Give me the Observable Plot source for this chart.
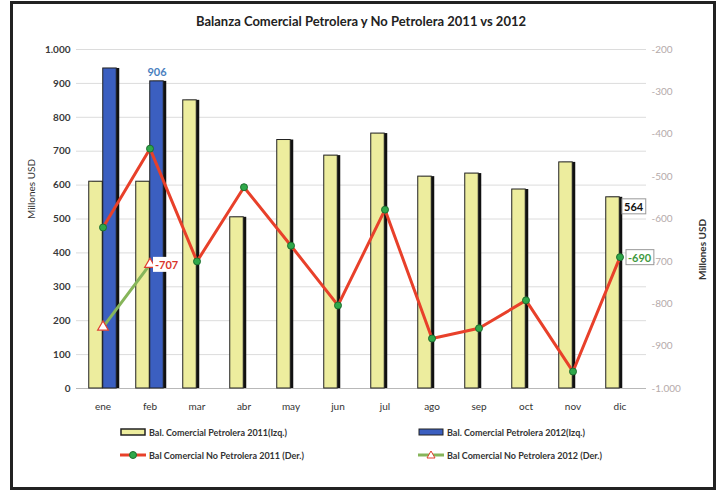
<!DOCTYPE html>
<html><head><meta charset="utf-8">
<script src="https://cdn.jsdelivr.net/npm/d3@7"></script>
<script src="https://cdn.jsdelivr.net/npm/@observablehq/plot@0.6"></script>
<style>
body{margin:0;background:#fff;font-family:Lato, "Open Sans", sans-serif}
#wrap{position:relative;width:722px;height:491px;overflow:hidden;background:#fff}
#frame{position:absolute;left:10px;top:1px;width:706px;height:489px;border:3px solid #222;box-sizing:border-box;pointer-events:none}
#title{position:absolute;left:0;width:722px;top:13px;text-align:center;font-weight:700;font-size:13px;color:#222}
#chart{position:absolute;left:0;top:0}
.leg{position:absolute;font-size:9px;font-weight:700;color:#333;display:flex;align-items:center;white-space:nowrap}
.leg svg{margin-right:2px}
</style></head>
<body>
<div id="wrap">
  <div id="chart"></div>
  <div id="title">Balanza Comercial Petrolera y No Petrolera 2011 vs 2012</div>
  <div id="legend"></div>
  <div id="frame"></div>
</div>
<script>
const months = ["ene","feb","mar","abr","may","jun","jul","ago","sep","oct","nov","dic"];
const petrolera2011 = [610,610,850,505,733,687,752,625,634,587,667,564];
const petrolera2012 = [944,906];
const noPetrolera2011 = [-620,-434,-700,-525,-663,-804,-578,-882,-858,-792,-960,-690];
const noPetrolera2012 = [-855,-707];
const leftTicks = [0,100,200,300,400,500,600,700,800,900,1000];
const rightTicks = [-1000,-900,-800,-700,-600,-500,-400,-300,-200];
const seriesNames = ["Bal. Comercial Petrolera 2011(Izq.)","Bal. Comercial Petrolera 2012(Izq.)","Bal Comercial No Petrolera 2011 (Der.)","Bal Comercial No Petrolera 2012 (Der.)"];
const axisTitle = "Millones USD";

const loc = d3.formatLocale({decimal:",", thousands:".", grouping:[3], currency:["$",""], minus:"-"});
const fmt = loc.format(",d");
// right axis (-1000..-200) mapped onto left axis (0..1000)
const toLeft = v => (v + 1000) * 1.25;
const fromLeft = y => y / 1.25 - 1000;

const p11 = months.map((m,i) => ({month:m, v:petrolera2011[i]}));
const p12 = petrolera2012.map((v,i) => ({month:months[i], v}));
const n11 = months.map((m,i) => ({month:m, v:noPetrolera2011[i]}));
const n12 = noPetrolera2012.map((v,i) => ({month:months[i], v}));

const bw = 570/12, half = bw/2;
const yellow = "#eded9e", blue = "#3b5fc0", red = "#e8402a", green = "#86b55a";

const plot = Plot.plot({
  width: 722, height: 491,
  marginLeft: 76, marginRight: 76, marginTop: 49, marginBottom: 103,
  style: {fontFamily: "Lato, sans-serif", fontSize: "10px", background: "transparent", overflow:"visible"},
  x: {domain: months, padding: 0, type: "band"},
  y: {domain: [0, 1000]},
  marks: [
    Plot.ruleY(leftTicks, {stroke: "#dcdcdc", strokeWidth: 1}),
    Plot.ruleY([0], {stroke: "#b8b8b8"}),
    Plot.axisY({anchor: "left", ticks: leftTicks, tickFormat: fmt, tickSize: 0, tickPadding: 6,
      fill: "#3a3a3a", fontWeight: 700, label: null}),
    Plot.axisY({anchor: "right", ticks: rightTicks.map(toLeft), tickFormat: d => fmt(Math.round(fromLeft(d))), tickSize: 0, tickPadding: 5,
      fill: "#b5aaaa", label: null}),
    Plot.text([axisTitle], {frameAnchor: "left", rotate: -90, dx: -45, text: d => d, fill: "#333", fontSize: 10}),
    Plot.text([axisTitle], {frameAnchor: "right", rotate: -90, dx: 56, text: d => d, fill: "#333", fontSize: 10, fontWeight: 700}),
    Plot.axisX({tickSize: 0, tickPadding: 14, fill: "#333", fontSize: 10, label: null}),
    // shadows
    Plot.barY(p11, {x: "month", y: "v", fill: "#111", dx: 3, insetLeft: half - 14, insetRight: half}),
    Plot.barY(p12, {x: "month", y: "v", fill: "#111", dx: 3, insetLeft: half, insetRight: half - 14}),
    // bars
    Plot.barY(p11, {x: "month", y: "v", fill: yellow, stroke: "#222", strokeWidth: 1, insetLeft: half - 14, insetRight: half}),
    Plot.barY(p12, {x: "month", y: "v", fill: blue, stroke: "#222", strokeWidth: 1, insetLeft: half, insetRight: half - 14}),
    // lines
    Plot.line(n11, {x: "month", y: d => toLeft(d.v), stroke: red, strokeWidth: 3}),
    Plot.line(n12, {x: "month", y: d => toLeft(d.v), stroke: green, strokeWidth: 3}),
    Plot.dot(n11, {x: "month", y: d => toLeft(d.v), r: 3.5, fill: "#2fa84a", stroke: "#1d6e2e", strokeWidth: 1}),
    Plot.dot(n12, {x: "month", y: d => toLeft(d.v), r: 4, symbol: "triangle", fill: "#fff", stroke: "#e04030", strokeWidth: 1.2}),
    // labels
    Plot.text(p12.filter(d => d.month === "feb"), {x: "month", y: "v", text: d => fmt(d.v), dx: 7, dy: -9, fill: "#4a7fc0", fontWeight: 700, fontSize: 11}),
    Plot.text(n12.filter(d => d.month === "feb"), {x: "month", y: d => toLeft(d.v), text: d => fmt(d.v), dx: 5, dy: 1, textAnchor: "start", fill: "#d9352a", fontWeight: 700, fontSize: 11, className: "lbl-white"}),
    Plot.text(p11.filter(d => d.month === "dic"), {x: "month", y: "v", text: d => fmt(d.v), dx: 4, dy: 10, textAnchor: "start", fill: "#111", fontWeight: 700, fontSize: 11, className: "lbl-box"}),
    Plot.text(n11.filter(d => d.month === "dic"), {x: "month", y: d => toLeft(d.v), text: d => fmt(d.v), dx: 8, dy: 1, textAnchor: "start", fill: "#3f9a3f", fontWeight: 700, fontSize: 11, className: "lbl-box"})
  ]
});
document.getElementById("chart").appendChild(plot);

// background boxes behind value labels
function boxes(cls, border) {
  d3.select(plot).selectAll("g." + cls + " text").each(function() {
    const b = this.getBBox();
    const t = this.getAttribute("transform");
    const r = document.createElementNS("http://www.w3.org/2000/svg", "rect");
    r.setAttribute("x", b.x - 2); r.setAttribute("y", b.y - 1);
    r.setAttribute("width", b.width + 4); r.setAttribute("height", b.height + 2);
    r.setAttribute("fill", "#fff");
    r.setAttribute("stroke", border);
    if (t) r.setAttribute("transform", t);
    this.parentNode.insertBefore(r, this);
  });
}
boxes("lbl-white", "none");
boxes("lbl-box", "#999");

// legend
const legend = document.getElementById("legend");
const legItems = [
  {x: 120, y: 426, name: seriesNames[0], sw: `<rect x="1" y="3" width="24" height="6" fill="${yellow}" stroke="#222" stroke-width="1.5"/>`},
  {x: 418, y: 426, name: seriesNames[1], sw: `<rect x="1" y="3" width="24" height="6" fill="${blue}" stroke="#222" stroke-width="1"/>`},
  {x: 120, y: 449, name: seriesNames[2], sw: `<line x1="0" y1="6" x2="26" y2="6" stroke="${red}" stroke-width="3"/><circle cx="13" cy="6" r="3.5" fill="#2fa84a" stroke="#1d6e2e"/>`},
  {x: 418, y: 449, name: seriesNames[3], sw: `<line x1="0" y1="6" x2="26" y2="6" stroke="${green}" stroke-width="3"/><path d="M13,2 L17,9 L9,9 Z" fill="#fff" stroke="#e04030"/>`}
];
legItems.forEach(it => {
  const d = document.createElement("div");
  d.className = "leg";
  d.style.left = it.x + "px"; d.style.top = it.y + "px";
  d.innerHTML = `<svg width="27" height="12">${it.sw}</svg><span>${it.name}</span>`;
  legend.appendChild(d);
});
</script>
</body></html>
